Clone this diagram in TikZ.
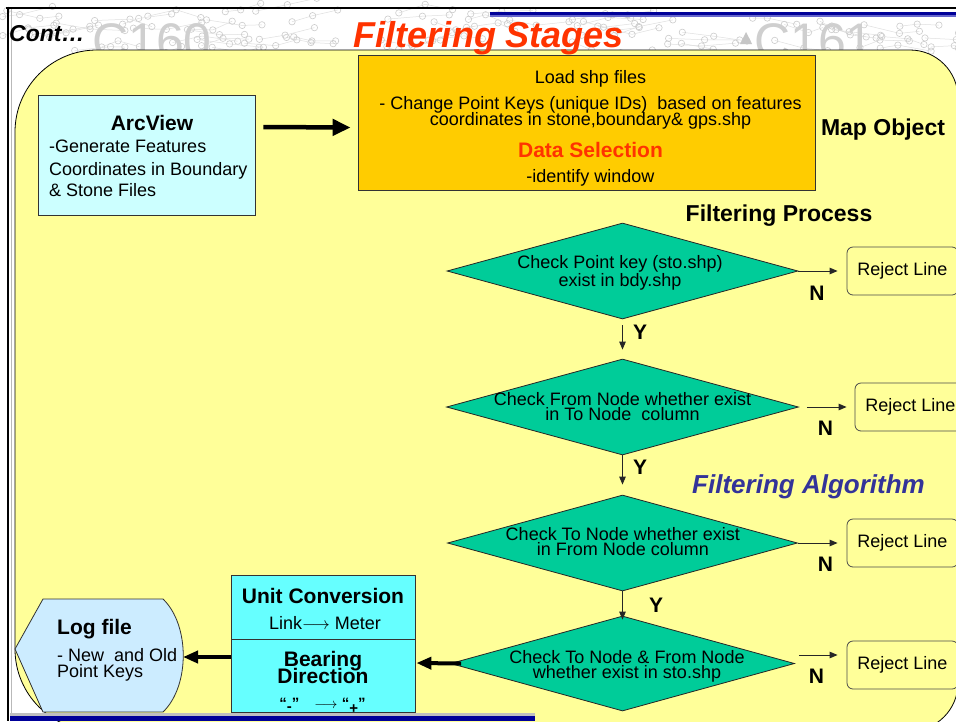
\documentclass[tikz,border=0pt]{standalone}
\usepackage{fontspec}
\setmainfont{Liberation Sans}
\usetikzlibrary{shapes.geometric,arrows.meta}

\definecolor{slideyellow}{HTML}{FFFF99}
\definecolor{boxorange}{HTML}{FFCC00}
\definecolor{paleCyan}{HTML}{CCFFFF}
\definecolor{brightCyan}{HTML}{66FFFF}
\definecolor{logblue}{HTML}{CCECFF}
\definecolor{decisiongreen}{HTML}{00CC99}
\definecolor{titlered}{HTML}{FF3300}
\definecolor{algoblue}{HTML}{333399}
\definecolor{navyline}{HTML}{000099}
\definecolor{lightnavy}{HTML}{6666CC}

\begin{document}
\begin{tikzpicture}[x=1pt,y=-1pt,
  body/.style={font=\fontsize{18}{15}\selectfont, inner sep=0pt},
  head/.style={font=\fontsize{21}{17}\selectfont\bfseries, inner sep=0pt},
  plainbox/.style={draw=black!80, line width=0.8pt, inner sep=0pt},
  decision/.style={diamond, draw=black!85, line width=0.8pt, fill=decisiongreen, inner sep=0pt},
  dtext/.style={body, align=center},
  reject/.style={draw=black!70, line width=0.8pt, fill=slideyellow, rounded corners=6pt,
    minimum width=111pt, minimum height=48pt, inner sep=0pt, font=\fontsize{18}{15}\selectfont},
  thinarrow/.style={line width=1pt, draw=black!85, -{Triangle[length=8pt,width=6.5pt]}},
  fatarrow/.style={line width=4pt, -{Triangle[length=15pt,width=12pt]}},
  bigarrow/.style={line width=4.5pt, -{Triangle[length=18pt,width=16pt]}},
  lbl/.style={head},
  stone/.style={draw=gray!40, line width=0.6pt},
  trace/.style={draw=gray!25, line width=0.5pt}
]
\useasboundingbox (0,0) rectangle (956,721);
\begin{scope}
\clip (0,0) rectangle (956,721);
\fill[white] (0,0) rectangle (956,721);

% faint survey map behind the slide
\pgfmathsetseed{314}
\foreach \k in {1,...,70}{
  \pgfmathsetmacro\ax{rnd*960}
  \pgfmathsetmacro\ay{10+rnd*45}
  \pgfmathsetmacro\bx{\ax+14+rnd*22}
  \pgfmathsetmacro\by{\ay-9+rnd*18}
  \pgfmathsetmacro\cx{\bx+14+rnd*22}
  \pgfmathsetmacro\cy{\by-9+rnd*18}
  \draw[trace] (\ax,\ay) -- (\bx,\by) -- (\cx,\cy);
  \draw[stone] (\ax,\ay) circle (3.2);
  \draw[stone] (\bx,\by) circle (3.2);
  \draw[stone] (\cx,\cy) circle (3.2);
}
\foreach \k in {1,...,40}{
  \pgfmathsetmacro\ax{rnd*960}
  \pgfmathsetmacro\ay{rnd*725}
  \pgfmathsetmacro\bx{\ax+14+rnd*22}
  \pgfmathsetmacro\by{\ay-9+rnd*18}
  \draw[trace] (\ax,\ay) -- (\bx,\by);
  \draw[stone] (\ax,\ay) circle (3.2);
  \draw[stone] (\bx,\by) circle (3.2);
}
\fill[gray!45] (740,44) -- (746,32) -- (752,44) -- cycle;

\node[font=\fontsize{50}{50}\selectfont, text=gray!38, anchor=base, inner sep=0pt] (sheetA) at (152,58) {C160};
\node[font=\fontsize{50}{50}\selectfont, text=gray!38, anchor=base, inner sep=0pt] (sheetB) at (814,58) {C161};

% yellow panel
\draw[fill=slideyellow, draw=black, line width=0.8pt]
  (500,50) [rounded corners=48pt] -- (958,50) -- (958,731) -- (500,731)
  [rounded corners=82pt] -- (15,731) -- (15,50) -- cycle;

% slide frame
\draw[black, line width=2pt] (6,7.5) -- (956,7.5);
\draw[black, line width=2pt] (7.5,6.5) -- (7.5,721);
\draw[gray!55, line width=1.2pt] (11.5,9) -- (11.5,721);
\fill[navyline] (490,11.5) rectangle (956,15);
\fill[lightnavy] (490,15) rectangle (956,17);
\fill[gray!50] (10,713) rectangle (535,715.5);
\fill[navyline] (10,716) rectangle (535,721);

% headings
\node[font=\fontsize{23}{23}\selectfont\bfseries\itshape, anchor=base west, inner sep=0pt] (cont) at (9,41) {Cont…};
\node[font=\fontsize{36}{36}\selectfont\bfseries\itshape, text=titlered, anchor=base, inner sep=0pt] (title) at (489,47) {Filtering Stages};
\node[font=\fontsize{23}{23}\selectfont\bfseries, anchor=base, inner sep=0pt] (mapobj) at (883,135) {Map Object};
\node[font=\fontsize{23}{23}\selectfont\bfseries, anchor=base, inner sep=0pt] (process) at (779,221) {Filtering Process};
\node[font=\fontsize{26}{26}\selectfont\bfseries\itshape, text=algoblue, anchor=base, inner sep=0pt] (algo) at (808.5,493.5) {Filtering Algorithm};

% ArcView source
\node[plainbox, fill=paleCyan, minimum width=217pt, minimum height=120pt] (arcview) at (146.5,155) {};
\node[head, anchor=base] (arcviewA) at (152,130.5) {ArcView};
\node[body, anchor=base west] (arcviewB) at (49,152.5) {-Generate Features};
\node[body, anchor=base west] (arcviewC) at (49,175) {Coordinates in Boundary};
\node[body, anchor=base west] (arcviewD) at (49,196.5) {\& Stone Files};

% loading / selection
\node[plainbox, fill=boxorange, minimum width=457pt, minimum height=135pt] (load) at (586.5,122.5) {};
\node[body, anchor=base] (loadA) at (590.5,83) {Load shp files};
\node[body, anchor=base] (loadB) at (590.5,109.5) {- Change Point Keys (unique IDs)\ \ based on features};
\node[body, anchor=base] (loadC) at (590.5,125) {coordinates in stone,boundary\& gps.shp};
\node[head, text=titlered, anchor=base] (loadD) at (590.5,157) {Data Selection};
\node[body, anchor=base] (loadE) at (590.5,182) {-identify window};

\draw[bigarrow] ([shift={(8,-28)}]arcview.east) -- ([shift={(-7,5)}]load.west);

% decisions
\node[decision, minimum width=351pt, minimum height=96pt] (d1) at (622.5,271) {};
\node[decision, minimum width=352pt, minimum height=96pt] (d2) at (622.5,407) {};
\node[decision, minimum width=350pt, minimum height=96pt] (d3) at (622.5,543) {};
\node[decision, minimum width=344pt, minimum height=95pt] (d4) at (622.5,663.5) {};

\node[dtext] (d1t) at (620,273) {Check Point key (sto.shp)\\exist in bdy.shp};
\node[dtext] (d2t) at (622.5,406.5) {Check From Node whether exist\\in To Node\ \ column};
\node[dtext] (d3t) at (622.8,542) {Check To Node whether exist\\in From Node column};
\node[dtext] (d4t) at (627,666) {Check To Node \& From Node\\whether exist in sto.shp};

% rejections
\node[reject] (r1) at (902.5,271) {Reject Line};
\node[reject] (r2) at (910.5,407) {Reject Line};
\node[reject] (r3) at (902.5,543) {Reject Line};
\node[reject] (r4) at (902.5,665) {Reject Line};

\draw[thinarrow] (d1.east) -- ([shift={(-9,0)}]r1.west);
\draw[thinarrow] ([shift={(8,0)}]d2.east) -- ([shift={(-8,0)}]r2.west);
\draw[thinarrow] (d3.east) -- ([shift={(-9,0)}]r3.west);
\draw[thinarrow] ([shift={(4,-8.5)}]d4.east) -- ([shift={(-9,-10)}]r4.west);

\node[lbl] (n1) at (817,293) {N};
\node[lbl] (n2) at (825.5,428) {N};
\node[lbl] (n3) at (825.5,564) {N};
\node[lbl] (n4) at (816.5,676.5) {N};

% accepted lines go down
\draw[thinarrow] ([shift={(0,6)}]d1.south) -- ([shift={(0,-9)}]d2.north);
\draw[thinarrow] (d2.south) -- ([shift={(0,-10)}]d3.north);
\draw[thinarrow] (d3.south) -- ([shift={(0,4)}]d4.north);

\node[lbl] (y1) at (640,332) {Y};
\node[lbl] (y2) at (640,467.5) {Y};
\node[lbl] (y3) at (656,605) {Y};

% conversion
\node[plainbox, fill=brightCyan, minimum width=184pt, minimum height=64pt] (unit) at (323,607) {};
\node[plainbox, fill=brightCyan, minimum width=184pt, minimum height=73pt] (bearing) at (323,675.5) {};
\node[head, anchor=base] (unitA) at (323,603.5) {Unit Conversion};
\node[body, anchor=base] (unitB) at (325,629) {Link$\longrightarrow$ Meter};
\node[head, anchor=base] (bearingA) at (323,666) {Bearing};
\node[head, anchor=base] (bearingB) at (323,683.5) {Direction};
\node[font=\fontsize{15}{15}\selectfont\bfseries, anchor=base, inner sep=0pt] (bearingC) at (322.5,708.5)
  {“\raisebox{-3pt}{-}”\quad$\longrightarrow$\ “\raisebox{-5pt}{+}”};

\draw[fatarrow] ([shift={(11,0)}]d4.west) -- ([shift={(1,-12.5)}]bearing.east);

% log file
\draw[draw=black!80, line width=0.8pt, fill=logblue]
  (15,649) -- (43,599) -- (163,599) .. controls (190,625) and (190,686) .. (163,712) -- (43,712) -- cycle;
\coordinate (logtip) at (183,657);
\node[head, anchor=base west] (logA) at (57,634) {Log file};
\node[body, anchor=base west] (logB) at (57,661.5) {- New\ \ and Old};
\node[body, anchor=base west] (logC) at (57,677) {Point Keys};

\draw[fatarrow] ([shift={(0,-18.5)}]bearing.west) -- (logtip);
\end{scope}
\end{tikzpicture}
\end{document}
